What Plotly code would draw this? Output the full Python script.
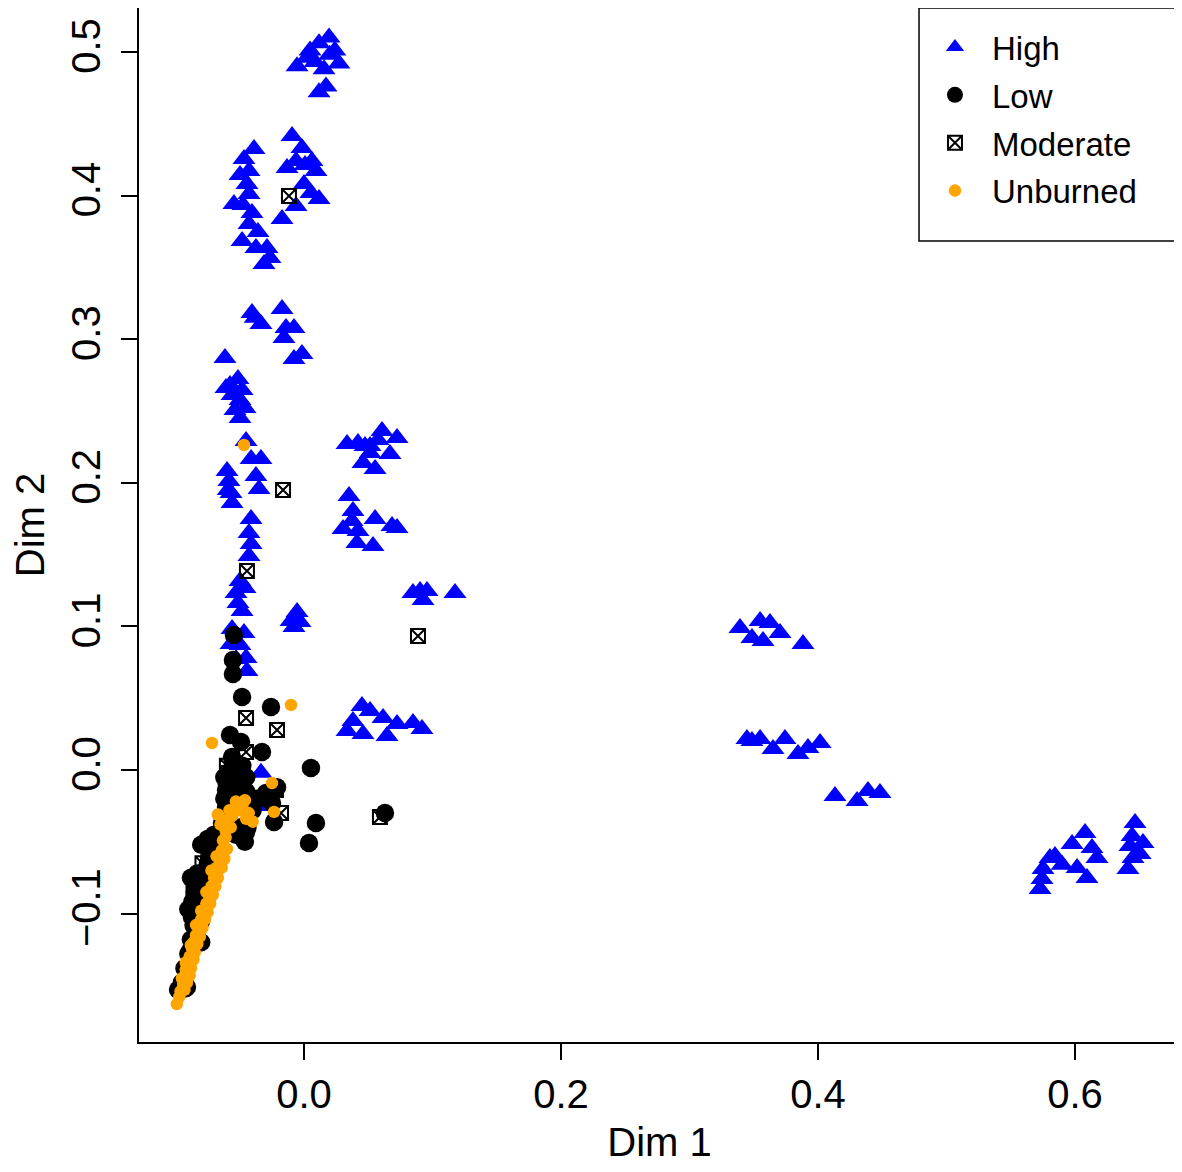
import plotly.graph_objects as go

# High (blue triangles)
high_x = [0.0117, 0.0195, 0.0023, -0.0054, 0.0272, 0.0156, 0.0171, 0.0117, 0.0047, 0.0200, 0.0086, 0.0240,
          -0.0389, -0.0467, -0.0428, -0.0444, -0.0428, -0.0545, -0.0405, -0.0428, -0.0482, -0.0374, -0.0288, -0.0311,
          -0.0498, -0.0358, -0.0265, -0.0475,
          -0.0093, -0.0016, -0.0062, -0.0132, 0.0062, 0.0093, 0.0000, 0.0054, 0.0117, -0.0062, -0.0171, 0.0008,
          -0.0405, -0.0335, -0.0171, -0.0140, -0.0078, -0.0156, -0.0016, -0.0078, -0.0380,
          -0.0615, -0.0514, -0.0607, -0.0576, -0.0482, -0.0560, -0.0498, -0.0537, -0.0498, -0.0459,
          -0.0451, -0.0412, -0.0335, -0.0374, -0.0350, -0.0599, -0.0584, -0.0568, -0.0560, -0.0590,
          -0.0412, -0.0428, -0.0412, -0.0428, -0.0498, -0.0529, -0.0514, -0.0482, -0.0459,
          -0.0560, -0.0467, -0.0568, -0.0451, -0.0444, -0.0529, -0.0498,
          -0.0054, -0.0101, -0.0031, -0.0078,
          0.0335, 0.0420, 0.0475, 0.0514, 0.0607, 0.0724, 0.0669, 0.0459, 0.0553, 0.0514, 0.0576,
          0.0350, 0.0381, 0.0553, 0.0685, 0.0304, 0.0420, 0.0412, 0.0537, 0.0724, 0.0374,
          0.0848, 0.0903, 0.0957, 0.0926, 0.1175,
          0.0451, 0.0514, 0.0381, 0.0615, 0.0724, 0.0848, 0.0918, 0.0335, 0.0459, 0.0646,
          0.3393, 0.3549, 0.3626, 0.3704, 0.3486, 0.3572, 0.3883,
          0.3447, 0.3486, 0.3549, 0.3650, 0.3743, 0.3844, 0.3922, 0.4016,
          0.4132, 0.4304, 0.4389, 0.4482,
          0.6078, 0.5977, 0.5844, 0.5805, 0.6132, 0.6171, 0.5751, 0.5743, 0.5728, 0.6093, 0.6016, 0.5900,
          0.6467, 0.6444, 0.6428, 0.6451, 0.6412, 0.6529, 0.6506,
          -0.0335, -0.0358]
high_y = [0.506, 0.510, 0.496, 0.490, 0.492, 0.488, 0.476, 0.472, 0.501, 0.498, 0.493, 0.501,
          0.4325, 0.4255, 0.4171, 0.4081, 0.4011, 0.3942, 0.3879, 0.3802, 0.3684, 0.3635, 0.3635, 0.3524,
          0.4143, 0.3747, 0.3565, 0.3935,
          0.4415, 0.4331, 0.4241, 0.4192, 0.4241, 0.4171, 0.4081, 0.4018, 0.3976, 0.3928, 0.3837, 0.4213,
          0.3182, 0.3106, 0.3210, 0.3078, 0.3078, 0.3008, 0.2897, 0.2862, 0.3150,
          0.2869, 0.2723, 0.2660, 0.2681, 0.2646, 0.2611, 0.2577, 0.2507, 0.2451, 0.2521,
          0.2291, 0.2166, 0.2166, 0.2047, 0.1957, 0.2082, 0.2013, 0.1929, 0.1859, 0.1950,
          0.1748, 0.1650, 0.1574, 0.1490, 0.1316, 0.1233, 0.1163, 0.1107, 0.1267,
          0.0982, 0.0954, 0.0877, 0.0780, 0.0689, 0.0773, 0.0870,
          0.1100, 0.1038, 0.1031, 0.0996,
          0.2270, 0.2277, 0.2256, 0.2256, 0.2361, 0.2312, 0.2201, 0.2138, 0.2096, 0.2208, 0.2298,
          0.1908, 0.1804, 0.1748, 0.1699, 0.1678, 0.1664, 0.1581, 0.1560, 0.1685, 0.1734,
          0.1233, 0.1247, 0.1247, 0.1184, 0.1233,
          0.0446, 0.0411, 0.0341, 0.0362, 0.0320, 0.0327, 0.0286, 0.0272, 0.0251, 0.0237,
          0.0989, 0.1038, 0.1024, 0.0954, 0.0919, 0.0898, 0.0877,
          0.0216, 0.0202, 0.0216, 0.0146, 0.0216, 0.0111, 0.0153, 0.0188,
          -0.0181, -0.0216, -0.0146, -0.0160,
          -0.0439, -0.0515, -0.0599, -0.0613, -0.0543, -0.0613, -0.0689, -0.0759, -0.0829, -0.0752, -0.0682, -0.0660,
          -0.0369, -0.0460, -0.0529, -0.0613, -0.0689, -0.0508, -0.0585,
          -0.0020, -0.0250]

# Low (black circles)
low_x = [-0.0545, -0.0553, -0.0553, -0.0482, -0.0257, -0.0576, -0.0490, -0.0327, -0.0560, 0.0054,
         -0.0599, -0.0482, -0.0607, -0.0296, -0.0428, -0.0249, -0.0233, 0.0093, 0.0039, -0.0451,
         -0.0607, -0.0638, -0.0739, -0.0817, -0.0872, -0.0833, -0.0949, -0.0911, 0.0630, -0.0210,
         -0.0600, -0.0620, -0.0580, -0.0630, -0.0660, -0.0680, -0.0720, -0.0750, -0.0780, -0.0820,
         -0.0850, -0.0870, -0.0840, -0.0860, -0.0880, -0.0900, -0.0930, -0.0950, -0.0920, -0.0530,
         -0.0500, -0.0400, -0.0360, -0.0450, -0.0520, -0.0560, -0.0480, -0.0700, -0.0760, -0.0800,
         -0.0800, -0.0750, -0.0700, -0.0460, -0.0440, -0.0880, -0.0830, -0.0900, -0.0860, -0.0880,
         -0.0800, -0.0980, -0.0620, -0.0580, -0.0500, -0.0450]
low_y = [0.0940, 0.0766, 0.0668, 0.0508, 0.0439, 0.0244, 0.0195, 0.0125, 0.0091, 0.0014,
         -0.0049, -0.0091, -0.0139, -0.0160, -0.0209, -0.0230, -0.0362, -0.0369, -0.0508, -0.0432,
         -0.0258, -0.0369, -0.0606, -0.0787, -0.1024, -0.1163, -0.1483, -0.1511, -0.0299, -0.0120,
         -0.0100, -0.0200, -0.0300, -0.0400, -0.0460, -0.0540, -0.0600, -0.0660, -0.0720, -0.0780,
         -0.0850, -0.0920, -0.1000, -0.1080, -0.1180, -0.1280, -0.1380, -0.1480, -0.1520, -0.0450,
         -0.0400, -0.0280, -0.0200, -0.0150, -0.0080, 0.0010, 0.0030, -0.0700, -0.0900, -0.1050,
         -0.0520, -0.0480, -0.0450, -0.0500, -0.0400, -0.0750, -0.0720, -0.0970, -0.0940, -0.1250,
         -0.1200, -0.1530, -0.0050, -0.0150, -0.0200, -0.0050]

# Moderate (boxed crosses)
mod_x = [-0.0117, -0.0163, -0.0444, 0.0887, -0.0451, -0.0210, -0.0451, 0.0591, -0.0218, -0.0179,
         -0.0599, -0.0580, -0.0550, -0.0840, -0.0820, -0.0800, -0.0790, -0.0860, -0.0840, -0.0600]
mod_y = [0.3997, 0.1950, 0.1386, 0.0933, 0.0362, 0.0279, 0.0125, -0.0327, -0.0139, -0.0300,
         -0.0021, -0.0100, -0.0180, -0.0780, -0.0900, -0.0720, -0.0650, -0.0850, -0.0950, 0.0030]

# Unburned (small orange dots)
unb_x = [-0.0467, -0.0716, -0.0101, -0.0249, -0.0233, -0.0669,
         -0.053, -0.048, -0.043, -0.040, -0.058, -0.062, -0.061, -0.063, -0.064, -0.066, -0.068, -0.070,
         -0.072, -0.074, -0.076, -0.078, -0.080, -0.082, -0.084, -0.086, -0.087, -0.089, -0.090, -0.092,
         -0.093, -0.094, -0.096, -0.097, -0.099, -0.065, -0.056, -0.050, -0.045, -0.067,
         -0.057, -0.061, -0.060, -0.062, -0.064, -0.067, -0.069, -0.071, -0.073, -0.075, -0.077, -0.079,
         -0.081, -0.083, -0.085, -0.086, -0.088, -0.089, -0.091, -0.093, -0.068, -0.072, -0.076, -0.080,
         -0.084, -0.088, -0.092, -0.095, -0.046]
unb_y = [0.2263, 0.0188, 0.0453, -0.0091, -0.0292, -0.0313,
         -0.022, -0.025, -0.030, -0.036, -0.028, -0.035, -0.042, -0.049, -0.056, -0.062, -0.068, -0.075,
         -0.081, -0.087, -0.093, -0.099, -0.104, -0.109, -0.115, -0.120, -0.125, -0.130, -0.135, -0.139,
         -0.144, -0.149, -0.154, -0.158, -0.163, -0.038, -0.032, -0.028, -0.034, -0.031,
         -0.040, -0.047, -0.055, -0.062, -0.068, -0.075, -0.081, -0.087, -0.093, -0.099, -0.104, -0.110,
         -0.116, -0.121, -0.127, -0.132, -0.138, -0.143, -0.148, -0.153, -0.060, -0.070, -0.085, -0.098,
         -0.108, -0.122, -0.134, -0.145, -0.021]

fig = go.Figure()
fig.add_trace(go.Scatter(x=high_x, y=high_y, mode='markers', name='High', legendgroup='a',
                         marker=dict(symbol='triangle-up', size=20, color='#0000FF')))
fig.add_trace(go.Scatter(x=low_x, y=low_y, mode='markers', name='Low', legendgroup='b',
                         marker=dict(symbol='circle', size=18.5, color='black')))
fig.add_trace(go.Scatter(x=mod_x, y=mod_y, mode='markers', name='Moderate', legendgroup='c',
                         marker=dict(symbol='square-x-open', size=14, color='black',
                                     line=dict(width=2, color='black'))))
fig.add_trace(go.Scatter(x=unb_x, y=unb_y, mode='markers', name='Unburned', legendgroup='d',
                         marker=dict(symbol='circle', size=12.5, color='#FFA500')))

axis_font = dict(family='Liberation Sans, Arial, sans-serif', size=40, color='black')

# the page body adds an 8px margin, so the figure is sized to fit the window
fig.update_layout(
    width=1174, height=1156,
    margin=dict(l=131, r=2, t=0, b=122, autoexpand=False),
    plot_bgcolor='white', paper_bgcolor='white',
    font=axis_font,
    showlegend=True,
    legend=dict(x=0.7483, xanchor='left', y=0.9894, yanchor='top',
                font=dict(size=33, family='Liberation Sans, Arial, sans-serif'),
                itemwidth=64, bgcolor='rgba(0,0,0,0)', borderwidth=0,
                traceorder='grouped', tracegroupgap=2),
    shapes=[dict(type='rect', xref='paper', yref='paper', x0=0.7493, x1=1.0, y0=0.7747, y1=1.0,
                 line=dict(color='black', width=1.5), fillcolor='white', layer='below')],
)
fig.update_xaxes(range=[-0.1284, 0.6817], tickvals=[0, 0.2, 0.4, 0.6],
                 ticktext=['0.0', '0.2', '0.4', '0.6'], automargin=False,
                 ticks='outside', ticklen=16, tickwidth=1.5, tickcolor='black',
                 showgrid=False, zeroline=False, showline=True, mirror=True,
                 linecolor='black', linewidth=2, ticklabelstandoff=0,
                 title=dict(text='Dim 1', font=axis_font, standoff=55))
fig.update_yaxes(range=[-0.1894, 0.5306], tickvals=[-0.1, 0, 0.1, 0.2, 0.3, 0.4, 0.5],
                 ticktext=['\u22120.1', '0.0', '0.1', '0.2', '0.3', '0.4', '0.5'],
                 tickangle=-90, automargin=False,
                 ticks='outside', ticklen=16, tickwidth=1.5, tickcolor='black',
                 showgrid=False, zeroline=False, showline=True, mirror=True,
                 linecolor='black', linewidth=2, ticklabelstandoff=5,
                 title=dict(text='Dim 2', font=axis_font, standoff=47))

fig.write_html("out.html")
